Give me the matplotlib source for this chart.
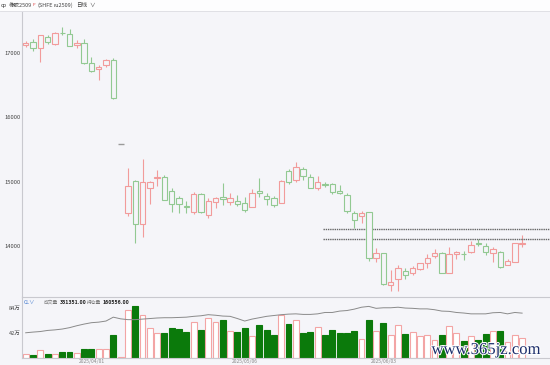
import matplotlib
matplotlib.use('Agg')
import matplotlib.pyplot as plt
import matplotlib.patheffects as pe
from matplotlib.patches import Rectangle

plt.rcParams['font.family'] = ['Noto Sans CJK SC', 'DejaVu Sans']

# daily bars, ru2509, in trading-day order
opens = [17125, 17170, 17080, 17255, 17140, 17310, 17295, 17120, 17150, 16840,
         16745, 16810, 16890, 15580, 14520, 15010, 14335, 14895, 15055, 15075,
         14860, 14740, 14615, 14535, 14810, 14480, 14680, 14765, 14690, 14700,
         14665, 14610, 14860, 14780, 14740, 14675, 15170, 15025, 15195, 15075,
         14895, 14965, 14960, 14860, 14795, 14520, 14470, 14525, 13810, 13885,
         13395, 13485, 13615, 13585, 13640, 13730, 13850, 13895, 13575, 13875,
         13880, 13900, 14045, 14005, 13885, 13910, 13705, 13755, 14035]
highs = [17190, 17220, 17280, 17280, 17325, 17410, 17370, 17200, 17215, 16935,
         16815, 16905, 16920, 15580, 15215, 15025, 15350, 15010, 15180, 15105,
         14895, 14775, 14705, 14845, 14830, 14740, 14755, 14985, 14830, 14795,
         14765, 14880, 15050, 14830, 14775, 15025, 15195, 15310, 15235, 15115,
         15095, 14990, 14975, 14950, 14820, 14545, 14545, 14530, 13975, 13890,
         13625, 13705, 13665, 13695, 13735, 13870, 13955, 13905, 13990, 13920,
         13920, 14080, 14105, 14040, 13980, 13920, 13800, 14045, 14170]
lows = [17100, 17030, 16865, 17140, 17125, 17280, 17105, 17075, 16825, 16710,
        16580, 16780, 16290, 15580, 14465, 14040, 14145, 14650, 14935, 14710,
        14535, 14520, 14520, 14495, 14510, 14430, 14585, 14635, 14635, 14620,
        14535, 14610, 14765, 14635, 14610, 14665, 14965, 15000, 15025, 14905,
        14870, 14920, 14805, 14815, 14505, 14285, 14355, 13765, 13755, 13400,
        13300, 13300, 13485, 13550, 13625, 13655, 13815, 13580, 13575, 13795,
        13780, 13885, 14005, 13860, 13755, 13655, 13705, 13755, 13980]
closes = [17155, 17080, 17280, 17170, 17310, 17305, 17110, 17150, 16850, 16725,
          16785, 16890, 16295, 15580, 14935, 14335, 14990, 14990, 15070, 14715,
          14650, 14650, 14605, 14810, 14535, 14705, 14740, 14725, 14740, 14650,
          14560, 14830, 14820, 14725, 14635, 15015, 15000, 15235, 15095, 14905,
          15000, 14950, 14835, 14820, 14545, 14405, 14510, 13810, 13885, 13405,
          13445, 13665, 13550, 13655, 13730, 13810, 13885, 13585, 13870, 13910,
          13870, 14015, 14035, 13910, 13955, 13670, 13765, 14040, 14045]
# volume and open interest, in 万
volumes = [6.2, 4.5, 11.8, 6.2, 6.2, 8.4, 8.4, 7.8, 14.6, 14.6,
           15.1, 14.6, 38.6, 0.6, 80.1, 85.7, 70.6, 49.8, 40.9, 40.9,
           49.3, 48.2, 42.0, 58.8, 46.5, 66.7, 58.8, 63.3, 44.8, 43.1,
           49.3, 35.3, 54.9, 45.4, 37.0, 71.7, 56.6, 63.3, 41.5, 42.0,
           50.9, 38.6, 45.4, 40.9, 40.9, 44.8, 30.8, 63.8, 44.8, 58.2,
           38.6, 54.9, 39.8, 42.6, 35.8, 38.1, 29.7, 38.1, 52.1, 41.5,
           26.9, 35.3, 29.7, 39.8, 43.7, 44.2, 25.7, 38.1, 33.1]
open_interest = [8.95, 9.2, 9.4, 9.8, 10.0, 10.3, 10.8, 11.5, 12.1, 12.6,
                 12.8, 13.2, 14.6, 14.0, 13.7, 13.7, 13.9, 14.1, 14.3, 14.4,
                 14.4, 14.5, 14.6, 14.9, 15.1, 15.5, 15.3, 15.0, 14.9, 14.1,
                 13.2, 13.9, 14.4, 14.9, 15.2, 15.5, 15.7, 15.8, 15.6, 15.6,
                 15.8, 16.3, 16.3, 16.8, 17.0, 17.5, 18.2, 18.5, 17.8, 18.0,
                 18.0, 18.2, 17.9, 17.8, 17.6, 17.6, 17.3, 16.8, 16.7, 16.3,
                 16.1, 15.8, 15.8, 15.8, 16.2, 16.3, 15.8, 16.3, 16.06]

price_ticks = [14000, 15000, 16000, 17000]
volume_ticks = [42, 84]
date_idx = [9, 30, 49]
date_labels = ['2025/04/01', '2025/05/06', '2025/06/03']
levels = [14260, 14115]
level_start = 40.7

W, H = 550, 365
BG = '#f5f5f9'
UP = '#f29b9b'
DOWN = '#92c992'
VOL_DOWN = '#0b7a0b'
AXIS = '#c9c9cf'
TXT = '#444444'


def fx(x):
    return x / W


def fy(y):
    return 1 - y / H


def draw_candles(ax):
    for i in range(len(opens)):
        o, h, l, c = opens[i], highs[i], lows[i], closes[i]
        if o == c and h == l:
            ax.hlines(o, i - 0.42, i + 0.42, color='#9a9a9a', lw=1.0)
            continue
        col = UP if c > o else DOWN
        ax.vlines(i, l, h, color=col, lw=0.8, zorder=2)
        ax.add_patch(Rectangle((i - 0.37, min(o, c)), 0.74, max(abs(c - o), 8),
                               fc=BG, ec=col, lw=0.8, zorder=3))


def main():
    fig = plt.figure(figsize=(W / 100, H / 100), dpi=100, facecolor=BG)

    # header strip
    fig.patches.append(Rectangle((0, fy(10.5)), 1, 1 - fy(10.5), transform=fig.transFigure,
                                 fc='#fdfdfe', ec='none'))
    fig.add_artist(plt.Line2D([0, 1], [fy(10.7), fy(10.7)], color='#dcdce2', lw=0.6))
    fig.text(fx(1), fy(5.5), 'cp', fontsize=4, color='#333', va='center')
    fig.text(fx(9), fy(5.5), '橡胶2509', fontsize=4, color='#444', va='center')
    fig.text(fx(32.5), fy(4.5), 'P', fontsize=3, color='#e04040', va='center')
    fig.text(fx(37), fy(5.5), '(SHFE', fontsize=4, color='#444', va='center')
    fig.text(fx(53), fy(5.5), 'ru2509)', fontsize=4, color='#444', va='center')
    fig.text(fx(76), fy(5.5), '日线', fontsize=4, color='#444', va='center')
    fig.text(fx(89), fy(5.5), '∨', fontsize=4, color='#444', va='center')

    # price panel
    ax = fig.add_axes([fx(22), fy(297), (W - 22) / W, (297 - 12) / H])
    ax.set_facecolor(BG)
    draw_candles(ax)
    ax.hlines(levels, level_start, 80, colors='#666666', linestyles=(0, (1, 0.6)), lw=1.0)
    ax.set_xlim(-0.507, 71.82)
    ax.set_ylim(13207, 17637)
    ax.set_yticks(price_ticks)
    ax.set_yticklabels([str(p) for p in price_ticks], fontsize=4.2, color=TXT)
    ax.set_xticks([])
    ax.tick_params(axis='y', length=0, pad=1)
    for s in ['top', 'right', 'bottom']:
        ax.spines[s].set_visible(False)
    ax.spines['left'].set_color(AXIS)
    ax.spines['left'].set_linewidth(0.8)

    # volume panel
    vx = fig.add_axes([fx(22), fy(357.5), (W - 22) / W, (357.5 - 297) / H])
    vx.set_facecolor(BG)
    x = list(range(len(volumes)))
    fcs = [VOL_DOWN if closes[i] < opens[i] else 'white' for i in x]
    ecs = [VOL_DOWN if closes[i] < opens[i] else '#f3a5a5' for i in x]
    vx.bar(x, volumes, width=0.8, color=fcs, edgecolor=ecs, lw=0.8)
    vx.set_xlim(-0.507, 71.82)
    vx.set_ylim(0, 101.6)
    vx.set_yticks(volume_ticks)
    vx.set_yticklabels([f'{v}万' for v in volume_ticks], fontsize=4, color=TXT)
    vx.set_xticks(date_idx)
    vx.set_xticklabels(date_labels, fontsize=3.6, color='#888888')
    vx.tick_params(length=0, pad=1.2)
    vx.spines['right'].set_visible(False)
    for s in ['top', 'bottom', 'left']:
        vx.spines[s].set_color(AXIS)
        vx.spines[s].set_linewidth(0.8)

    # open interest on its own scale
    oi = vx.twinx()
    oi.plot(x, open_interest, color='#8a8a8a', lw=0.7)
    oi.set_ylim(0, 21.9)
    oi.set_yticks([])
    oi.patch.set_visible(False)
    for s in oi.spines.values():
        s.set_visible(False)

    # legend line in the volume panel
    fig.text(fx(24), fy(302.5), 'CL∨', fontsize=3.8, color='#4a7fd0', va='center')
    fig.text(fx(44), fy(302.5), '成交量', fontsize=3.4, color='#777', va='center')
    fig.text(fx(60), fy(302.5), '331351.00', fontsize=3.8, color='#222', va='center',
             fontweight='bold')
    fig.text(fx(87), fy(302.5), '持仓量', fontsize=3.4, color='#777', va='center')
    fig.text(fx(103), fy(302.5), '160556.00', fontsize=3.8, color='#222', va='center',
             fontweight='bold')

    # watermark
    fig.text(fx(486), fy(350), 'www.365jz.com', fontsize=12, color='#1b2d6b',
             family='Liberation Serif', ha='center', va='center',
             path_effects=[pe.withStroke(linewidth=1.5, foreground='white')])

    fig.savefig('out.png', dpi=100, facecolor=BG)


if __name__ == '__main__':
    main()
